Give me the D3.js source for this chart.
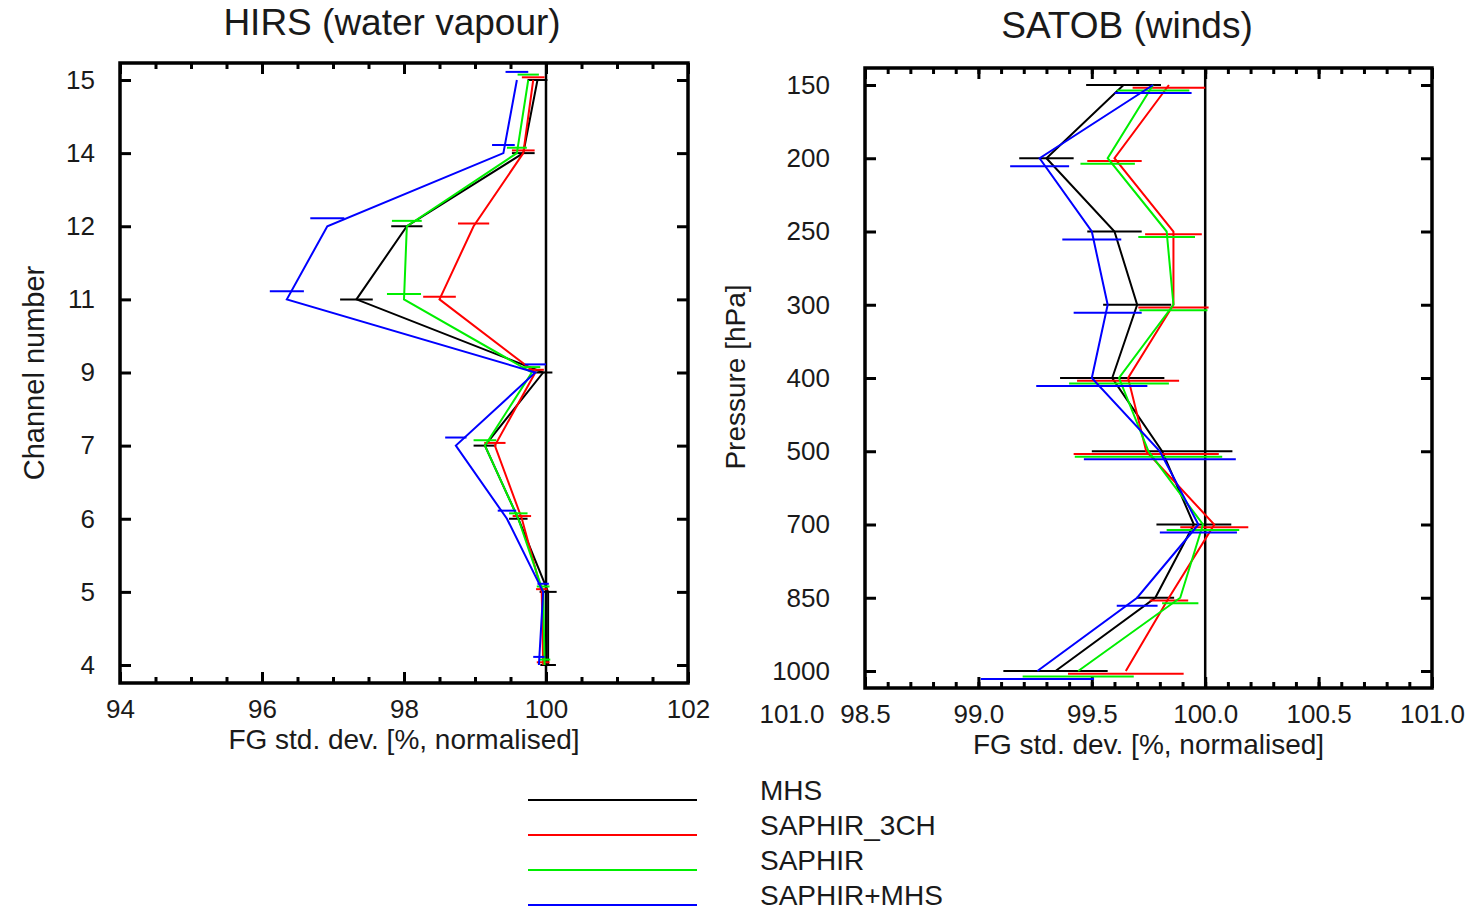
<!DOCTYPE html>
<html lang="en">
<head>
<meta charset="UTF-8" />
<title>HIRS and SATOB FG std. dev.</title>
<style>
  body { margin: 0; background: #fff; }
  svg text { font-family: "Liberation Sans", Arial, sans-serif; fill: #1a1a1a; }
</style>
</head>
<body>
<svg width="1470" height="913"></svg>
<script src="https://d3js.org/d3.v7.min.js"></script>
<script>
// ---- data ----
var seriesNames = ["MHS", "SAPHIR_3CH", "SAPHIR", "SAPHIR+MHS"];
var seriesColors = ["#000000", "#ff0000", "#00ee00", "#0000ff"];

// HIRS (water vapour), channels listed top to bottom
var hirsChannels = ["15", "14", "12", "11", "9", "7", "6", "5", "4"];
var hirsMHS      = [99.88, 99.68, 98.04, 97.33, 99.96, 99.14, 99.61, 100.03, 100.03];
var hirsS3CH     = [99.82, 99.68, 98.98, 98.50, 99.85, 99.28, 99.66, 99.94, 99.96];
var hirsSAPHIR   = [99.75, 99.59, 98.04, 98.00, 99.80, 99.14, 99.61, 99.96, 99.98];
var hirsSMHS     = [99.59, 99.40, 96.92, 96.35, 99.85, 98.73, 99.45, 99.96, 99.90];
var hirsErrMHS    = [0.14, 0.16, 0.22, 0.23, 0.13, 0.16, 0.13, 0.12, 0.11];
var hirsErrS3CH   = [0.16, 0.16, 0.22, 0.23, 0.12, 0.15, 0.13, 0.08, 0.09];
var hirsErrSAPHIR = [0.15, 0.14, 0.21, 0.24, 0.12, 0.16, 0.13, 0.09, 0.08];
var hirsErrSMHS   = [0.16, 0.16, 0.24, 0.24, 0.15, 0.15, 0.13, 0.08, 0.08];
var hirsXTicks = [94, 96, 98, 100, 102];

// SATOB (winds), pressure levels top to bottom
var satobLevels = ["150", "200", "250", "300", "400", "500", "700", "850", "1000"];
var satobMHS    = [99.64, 99.30, 99.60, 99.70, 99.59, 99.81, 99.95, 99.78, 99.34];
var satobS3CH   = [99.84, 99.60, 99.86, 99.86, 99.66, 99.74, 100.04, 99.84, 99.65];
var satobSAPHIR = [99.77, 99.57, 99.83, 99.86, 99.62, 99.75, 99.99, 99.89, 99.44];
var satobSMHS   = [99.77, 99.27, 99.50, 99.57, 99.50, 99.80, 99.97, 99.70, 99.26];
var satobErrMHS    = [0.165, 0.12, 0.12, 0.15, 0.23, 0.31, 0.165, 0.083, 0.23];
var satobErrS3CH   = [0.16, 0.12, 0.125, 0.155, 0.225, 0.32, 0.15, 0.085, 0.255];
var satobErrSAPHIR = [0.16, 0.12, 0.125, 0.15, 0.22, 0.325, 0.16, 0.08, 0.245];
var satobErrSMHS   = [0.17, 0.13, 0.13, 0.15, 0.245, 0.335, 0.17, 0.09, 0.25];
var satobXTicks = [98.5, 99.0, 99.5, 100.0, 100.5, 101.0];
var satobStrayLabel = "101.0";

var svg = d3.select("svg");

function drawPanel(opt) {
    var x = d3.scaleLinear().domain(opt.xDomain).range([opt.left, opt.right]);
    var y = d3.scalePoint().domain(opt.cats).range([opt.yFirst, opt.yLast]);
    var g = svg.append("g");

    // minor + major ticks, bottom and top (inward)
    var minor = d3.range(opt.xDomain[0], opt.xDomain[1] + 1e-9, opt.minorStep);
    g.append("g").attr("transform", "translate(0," + opt.bottom + ")")
        .call(d3.axisBottom(x).tickValues(minor).tickSize(-6).tickFormat(""));
    g.append("g").attr("transform", "translate(0," + opt.top + ")")
        .call(d3.axisTop(x).tickValues(minor).tickSize(-6).tickFormat(""));
    g.append("g").attr("transform", "translate(0," + opt.bottom + ")")
        .call(d3.axisBottom(x).tickValues(opt.xTicks).tickSize(-11).tickFormat(""));
    g.append("g").attr("transform", "translate(0," + opt.top + ")")
        .call(d3.axisTop(x).tickValues(opt.xTicks).tickSize(-11).tickFormat(""));
    g.append("g").attr("transform", "translate(" + opt.left + ",0)")
        .call(d3.axisLeft(y).tickSize(-11).tickFormat(""));
    g.append("g").attr("transform", "translate(" + opt.right + ",0)")
        .call(d3.axisRight(y).tickSize(-11).tickFormat(""));
    g.selectAll(".domain").remove();
    g.selectAll(".tick line").attr("stroke", "#000").attr("stroke-width", 3);

    // tick labels
    var xl = g.append("g").attr("transform", "translate(0," + opt.bottom + ")")
        .call(d3.axisBottom(x).tickValues(opt.xTicks).tickSize(0).tickPadding(17).tickFormat(opt.fmt));
    var yl = g.append("g").attr("transform", "translate(" + opt.left + ",0)")
        .call(d3.axisLeft(y).tickSize(0).tickPadding(opt.yPad));
    [xl, yl].forEach(function(a) {
        a.select(".domain").remove();
        a.selectAll("text").attr("font-size", 26).attr("fill", "#1a1a1a")
            .style("font-family", "Liberation Sans, Arial, sans-serif");
    });

    // reference line at 100
    g.append("line")
        .attr("x1", x(100)).attr("x2", x(100))
        .attr("y1", opt.top).attr("y2", opt.bottom)
        .attr("stroke", "#000").attr("stroke-width", 2.5);

    // series
    opt.series.forEach(function(s, i) {
        var pts = opt.cats.map(function(c, j) { return { c: c, v: s.values[j], e: s.errs[j] }; });
        g.append("path").datum(pts)
            .attr("fill", "none")
            .attr("stroke", seriesColors[i])
            .attr("stroke-width", 2)
            .attr("d", d3.line().x(function(d) { return x(d.v); }).y(function(d) { return y(d.c); }));
        g.selectAll(null).data(pts).enter().append("line")
            .attr("x1", function(d) { return x(d.v - d.e); })
            .attr("x2", function(d) { return x(d.v + d.e); })
            .attr("y1", function(d) { return y(d.c) + opt.barShift * i; })
            .attr("y2", function(d) { return y(d.c) + opt.barShift * i; })
            .attr("stroke", seriesColors[i])
            .attr("stroke-width", 2);
    });

    // frame
    g.append("rect")
        .attr("x", opt.left).attr("y", opt.top)
        .attr("width", opt.right - opt.left).attr("height", opt.bottom - opt.top)
        .attr("fill", "none").attr("stroke", "#000").attr("stroke-width", 3.5);

    // titles
    g.append("text")
        .attr("x", opt.titleX).attr("y", opt.titleY)
        .attr("text-anchor", "middle").attr("font-size", 37)
        .text(opt.title);
    g.append("text")
        .attr("x", (opt.left + opt.right) / 2).attr("y", opt.bottom + 66)
        .attr("text-anchor", "middle").attr("font-size", 28)
        .text("FG std. dev. [%, normalised]");
    g.append("text")
        .attr("transform", "translate(" + opt.yTitleX + "," + opt.yTitleY + ") rotate(-90)")
        .attr("text-anchor", "middle").attr("font-size", opt.yTitleSize)
        .text(opt.yTitle);
    return { x: x, g: g };
}

drawPanel({
    left: 120, right: 688, top: 63, bottom: 683, yFirst: 80, yLast: 665,
    xDomain: [94, 102], minorStep: 0.5, xTicks: hirsXTicks, fmt: d3.format("d"),
    cats: hirsChannels, yPad: 25, barShift: -2.7,
    title: "HIRS (water vapour)", titleX: 392, titleY: 35,
    yTitle: "Channel number", yTitleX: 44, yTitleY: 373, yTitleSize: 29,
    series: [
        { values: hirsMHS, errs: hirsErrMHS },
        { values: hirsS3CH, errs: hirsErrS3CH },
        { values: hirsSAPHIR, errs: hirsErrSAPHIR },
        { values: hirsSMHS, errs: hirsErrSMHS }
    ]
});

var satob = drawPanel({
    left: 865, right: 1432, top: 68, bottom: 688, yFirst: 85, yLast: 671,
    xDomain: [98.5, 101.0], minorStep: 0.1, xTicks: satobXTicks, fmt: d3.format(".1f"),
    cats: satobLevels, yPad: 35, barShift: 2.7,
    title: "SATOB (winds)", titleX: 1127, titleY: 38,
    yTitle: "Pressure [hPa]", yTitleX: 745, yTitleY: 377, yTitleSize: 28,
    series: [
        { values: satobMHS, errs: satobErrMHS },
        { values: satobS3CH, errs: satobErrS3CH },
        { values: satobSAPHIR, errs: satobErrSAPHIR },
        { values: satobSMHS, errs: satobErrSMHS }
    ]
});

// stray label left of the SATOB axis
satob.g.append("text")
    .attr("x", satob.x(98.5) - 73).attr("y", 688 + 17)
    .attr("dy", "0.71em").attr("text-anchor", "middle").attr("font-size", 26)
    .text(satobStrayLabel);

// legend
var legend = svg.append("g").attr("transform", "translate(528,800)");
var rows = legend.selectAll("g").data(seriesNames).enter().append("g")
    .attr("transform", function(d, i) { return "translate(0," + i * 35 + ")"; });
rows.append("line")
    .attr("x1", 0).attr("x2", 169)
    .attr("stroke", function(d, i) { return seriesColors[i]; })
    .attr("stroke-width", 2);
rows.append("text")
    .attr("x", 232).attr("y", 0)
    .attr("font-size", 28)
    .text(function(d) { return d; });
</script>
</body>
</html>
